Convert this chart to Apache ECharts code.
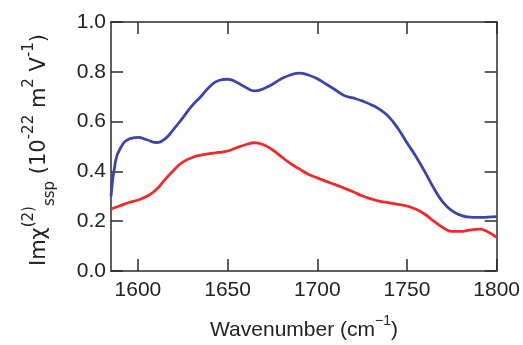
<!DOCTYPE html>
<html>
<head>
<meta charset="utf-8">
<script src="https://cdn.jsdelivr.net/npm/echarts@6/dist/echarts.min.js"></script>
<style>
html,body{margin:0;padding:0;background:#fff;}
#chart{width:523px;height:345px;}
</style>
</head>
<body>
<div id="chart"></div>
<script>
// ---- data ----
var blueX = [1585, 1587.5, 1590, 1595, 1600, 1605, 1610, 1615, 1620, 1625, 1630, 1635, 1640, 1645, 1650, 1655, 1660, 1665, 1670, 1675, 1680, 1685, 1690, 1695, 1700, 1705, 1710, 1715, 1720, 1725, 1730, 1735, 1740, 1745, 1750, 1755, 1760, 1765, 1770, 1775, 1780, 1785, 1790, 1795, 1800];
var blueY = [0.30, 0.44, 0.49, 0.53, 0.537, 0.527, 0.516, 0.53, 0.57, 0.615, 0.662, 0.70, 0.74, 0.765, 0.770, 0.758, 0.738, 0.723, 0.732, 0.75, 0.772, 0.787, 0.795, 0.787, 0.772, 0.75, 0.728, 0.705, 0.695, 0.683, 0.668, 0.648, 0.618, 0.572, 0.515, 0.46, 0.398, 0.332, 0.277, 0.242, 0.224, 0.216, 0.215, 0.216, 0.218];
var redX = [1585, 1590, 1595, 1600, 1605, 1610, 1615, 1620, 1625, 1630, 1635, 1640, 1645, 1650, 1655, 1660, 1665, 1670, 1675, 1680, 1685, 1690, 1695, 1700, 1705, 1710, 1715, 1720, 1725, 1730, 1735, 1740, 1745, 1750, 1755, 1760, 1765, 1770, 1775, 1780, 1785, 1790, 1795, 1800];
var redY = [0.249, 0.262, 0.275, 0.285, 0.300, 0.325, 0.366, 0.405, 0.437, 0.455, 0.465, 0.471, 0.476, 0.482, 0.495, 0.507, 0.515, 0.507, 0.487, 0.459, 0.432, 0.41, 0.389, 0.374, 0.36, 0.347, 0.333, 0.318, 0.302, 0.29, 0.28, 0.274, 0.268, 0.261, 0.248, 0.228, 0.200, 0.175, 0.159, 0.159, 0.164, 0.168, 0.158, 0.135];
var xTicks = [1600, 1650, 1700, 1750, 1800];
var yTicks = [0.0, 0.2, 0.4, 0.6, 0.8, 1.0];

function pairs(xs, ys) { return xs.map(function (x, i) { return [x, ys[i]]; }); }

var chart = echarts.init(document.getElementById('chart'));
var axisCol = '#2b2b2b';
var font = 'Liberation Sans, Arial, sans-serif';
var wfont = 'DejaVu Sans, sans-serif';

var xBase = {
  type: 'value', min: 1585, max: 1800,
  axisLine: { show: true, onZero: false, lineStyle: { color: axisCol, width: 1.5 } },
  axisTick: { show: true, inside: true, length: 12, customValues: xTicks, lineStyle: { color: axisCol, width: 1.5 } },
  splitLine: { show: false }
};
var yBase = {
  type: 'value', min: 0, max: 1, interval: 0.2,
  axisLine: { show: true, onZero: false, lineStyle: { color: axisCol, width: 1.5 } },
  axisTick: { show: true, inside: true, length: 12, customValues: yTicks, lineStyle: { color: axisCol, width: 1.5 } },
  splitLine: { show: false }
};

chart.setOption({
  animation: false,
  backgroundColor: '#fff',
  grid: { left: 111, right: 26, top: 22, bottom: 74 },
  xAxis: [
    Object.assign({}, xBase, {
      position: 'bottom',
      axisLabel: { show: true, customValues: xTicks, margin: 9, color: '#222', fontSize: 21, fontFamily: font,
        formatter: function (v) { return String(v); } }
    }),
    Object.assign({}, xBase, { position: 'top', axisLabel: { show: false } })
  ],
  yAxis: [
    Object.assign({}, yBase, {
      position: 'left',
      axisLabel: { show: true, customValues: yTicks, margin: 5, color: '#222', fontSize: 21, fontFamily: font,
        formatter: function (v) { return v.toFixed(1); } }
    }),
    Object.assign({}, yBase, { position: 'right', axisLabel: { show: false } })
  ],
  graphic: [
    {
      type: 'text', x: 304, y: 330,
      style: {
        text: '{m|Wavenumber (cm}{s|−1}{m|)}',
        align: 'center', verticalAlign: 'middle',
        rich: {
          m: { fontSize: 21, fontFamily: font, fill: '#222', lineHeight: 32, verticalAlign: 'middle' },
          s: { fontSize: 14, fontFamily: font, fill: '#222', lineHeight: 12, verticalAlign: 'top' }
        }
      }
    },
    {
      type: 'text', x: 40, y: 150, rotation: Math.PI / 2,
      style: {
        text: '{m|Imχ}{s|(2)}{b|ssp}{m| (10}{s|-22}{m| m}{s|2}{m| V}{s|-1}{m|)}',
        align: 'center', verticalAlign: 'middle',
        rich: {
          m: { fontSize: 21, fontFamily: wfont, fill: '#222', lineHeight: 36, verticalAlign: 'middle' },
          s: { fontSize: 15, fontFamily: wfont, fill: '#222', lineHeight: 10, verticalAlign: 'top' },
          b: { fontSize: 15, fontFamily: wfont, fill: '#222', lineHeight: 31, verticalAlign: 'bottom' }
        }
      }
    }
  ],
  series: [
    {
      type: 'line', data: pairs(blueX, blueY), smooth: true, showSymbol: false,
      lineStyle: { color: '#3b45a8', width: 2.8 }, z: 3
    },
    {
      type: 'line', data: pairs(redX, redY), smooth: true, showSymbol: false,
      lineStyle: { color: '#ee2a2a', width: 2.8 }, z: 3
    }
  ]
});
</script>
</body>
</html>
